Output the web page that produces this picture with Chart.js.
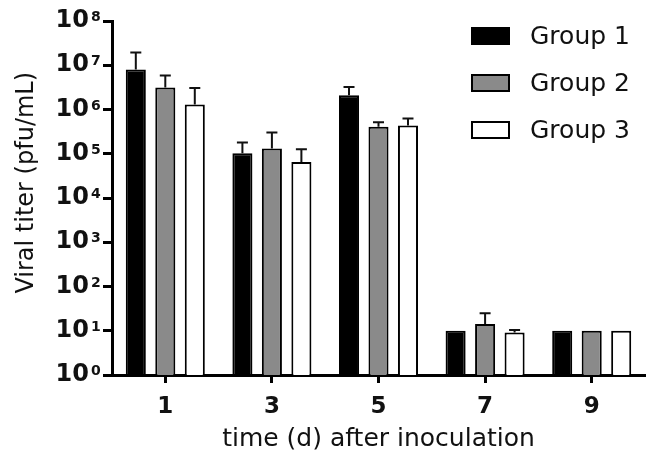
<!DOCTYPE html>
<html lang="en">
<head>
    <meta charset="UTF-8">
    <title>Viral titer</title>
    <script src="https://cdn.jsdelivr.net/npm/chart.js@4.4.0/dist/chart.umd.min.js"></script>
    <style>
        * { margin: 0; padding: 0; box-sizing: border-box; }
        body { background: #fff; }
        .chart-box { width: 651px; height: 452px; position: relative; }
    </style>
</head>
<body>
    <div class="chart-box">
        <canvas id="titerChart"></canvas>
    </div>

    <script>
        // data
        const days = ['1', '3', '5', '7', '9'];
        const group1 = [8.0e6, 1.02e5, 2.1e6, 10, 10];
        const group2 = [3.14e6, 1.32e5, 4.05e5, 14.3, 10];
        const group3 = [1.3e6, 6.5e4, 4.35e5, 9.1, 10];
        // top of each error bar (null = no bar)
        const group1Err = [1.94e7, 1.8e5, 3.24e6, null, null];
        const group2Err = [5.86e6, 3.03e5, 5.17e5, 24.8, null];
        const group3Err = [3.07e6, 1.27e5, 6.26e5, 10.4, null];
        const decadeTicks = [1, 10, 1e2, 1e3, 1e4, 1e5, 1e6, 1e7, 1e8];

        const FONT = '"DejaVu Sans", "Liberation Sans", Arial, sans-serif';

        // upper error bars
        const errorBars = {
            id: 'errorBars',
            afterDatasetsDraw(chart) {
                const ctx = chart.ctx;
                const y = chart.scales.y;
                ctx.save();
                ctx.strokeStyle = '#111';
                ctx.lineWidth = 2;
                chart.data.datasets.forEach((ds, i) => {
                    const meta = chart.getDatasetMeta(i);
                    meta.data.forEach((bar, j) => {
                        const top = ds.errTop[j];
                        if (top == null) return;
                        const yt = y.getPixelForValue(top);
                        ctx.beginPath();
                        ctx.moveTo(bar.x, bar.y);
                        ctx.lineTo(bar.x, yt);
                        ctx.moveTo(bar.x - 5.5, yt);
                        ctx.lineTo(bar.x + 5.5, yt);
                        ctx.stroke();
                    });
                });
                ctx.restore();
            }
        };

        // exponents next to the "10" tick labels
        const exponents = {
            id: 'exponents',
            afterDraw(chart) {
                const ctx = chart.ctx;
                const y = chart.scales.y;
                ctx.save();
                ctx.font = 'bold 14px ' + FONT;
                ctx.fillStyle = '#111';
                ctx.textAlign = 'left';
                ctx.textBaseline = 'alphabetic';
                y.ticks.forEach(t => {
                    const py = y.getPixelForValue(t.value);
                    ctx.fillText(String(Math.round(Math.log10(t.value))), 91, py);
                });
                ctx.restore();
            }
        };

        // legend drawn inside the plot, top right
        const insideLegend = {
            id: 'insideLegend',
            afterDraw(chart) {
                const ctx = chart.ctx;
                ctx.save();
                ctx.font = '25px ' + FONT;
                ctx.textBaseline = 'middle';
                chart.data.datasets.forEach((ds, i) => {
                    const cy = 36 + i * 47;
                    ctx.fillStyle = ds.backgroundColor;
                    ctx.fillRect(472, cy - 8, 37, 16);
                    ctx.strokeStyle = '#000';
                    ctx.lineWidth = 2;
                    ctx.strokeRect(472, cy - 8, 37, 16);
                    ctx.fillStyle = '#111';
                    ctx.fillText(ds.label, 530, cy + 1);
                });
                ctx.restore();
            }
        };

        const titerChart = new Chart(document.getElementById('titerChart'), {
            type: 'bar',
            data: {
                labels: days,
                datasets: [
                    { label: 'Group 1', data: group1, errTop: group1Err, backgroundColor: '#000000' },
                    { label: 'Group 2', data: group2, errTop: group2Err, backgroundColor: '#8a8a8a' },
                    { label: 'Group 3', data: group3, errTop: group3Err, backgroundColor: '#ffffff' }
                ]
            },
            options: {
                responsive: true,
                maintainAspectRatio: false,
                animation: false,
                layout: { padding: { top: 21, right: 6, left: 0, bottom: 0 } },
                datasets: {
                    bar: {
                        borderColor: '#000',
                        borderWidth: 2,
                        borderSkipped: 'start',
                        categoryPercentage: 0.83,
                        barPercentage: 0.68
                    }
                },
                plugins: {
                    legend: { display: false },
                    tooltip: { enabled: false }
                },
                scales: {
                    x: {
                        grid: { offset: false, drawOnChartArea: false, drawTicks: true, tickLength: 8, tickWidth: 3, tickColor: '#000' },
                        border: { display: true, width: 3, color: '#000' },
                        ticks: {
                            color: '#111',
                            padding: 10,
                            font: { family: FONT, size: 23, weight: 'bold' }
                        },
                        title: {
                            display: true,
                            text: 'time (d) after inoculation',
                            color: '#111',
                            font: { family: FONT, size: 25, lineHeight: 1 },
                            padding: { top: 0, bottom: 0 }
                        },
                        afterFit: s => {
                            s.height = 77;
                            s.paddingLeft = s.paddingRight = 0;
                        }
                    },
                    y: {
                        type: 'logarithmic',
                        min: 1,
                        max: 1e8,
                        grid: { drawOnChartArea: false, drawTicks: true, tickLength: 9, tickWidth: 3, tickColor: '#000' },
                        border: { display: true, width: 3, color: '#000' },
                        afterBuildTicks: s => { s.ticks = decadeTicks.map(v => ({ value: v })); },
                        ticks: {
                            color: '#111',
                            padding: 14,
                            font: { family: FONT, size: 24, weight: 'bold' },
                            callback: () => '10'
                        },
                        title: {
                            display: true,
                            text: '    Viral titer (pfu/mL)',
                            color: '#111',
                            font: { family: FONT, size: 24, lineHeight: 1 },
                            padding: { top: 15, bottom: 0 }
                        },
                        afterFit: s => {
                            s.width = 112;
                            s.paddingTop = s.paddingBottom = 0;
                        }
                    }
                }
            },
            plugins: [errorBars, exponents, insideLegend]
        });
    </script>
</body>
</html>
